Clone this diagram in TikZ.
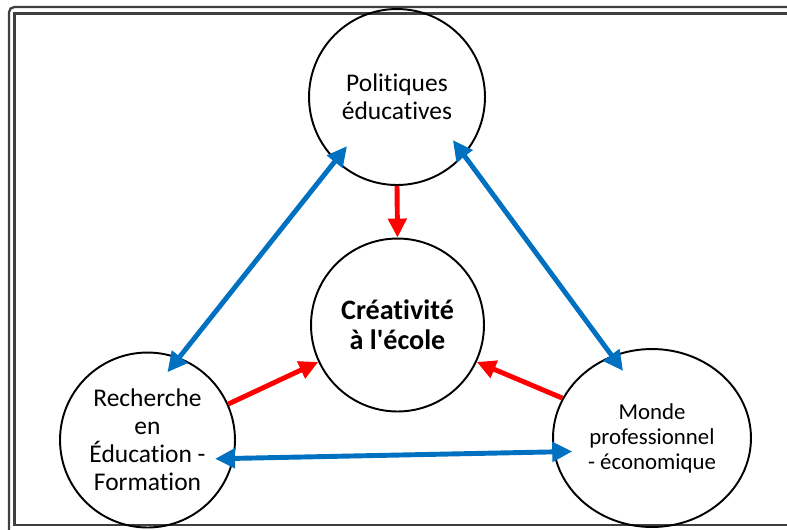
\documentclass[tikz,border=0pt]{standalone}
\usepackage{fontspec}
\newfontfamily\calibri[Ligatures=NoCommon]{Carlito}
\usetikzlibrary{arrows.meta}
\usetikzlibrary{shapes.geometric}
\definecolor{lienbleu}{HTML}{0070C0}
\definecolor{lienrouge}{HTML}{FF0000}
\definecolor{cadre}{HTML}{3F3F3F}

\begin{document}
\begin{tikzpicture}[x=0.02cm,y=-0.02cm,
  pole/.style={circle,draw,line width=1.1pt,inner sep=0pt,align=center,font=\calibri\fontsize{14.5}{16}\selectfont},
  bleu/.style={draw=lienbleu,line width=2.8pt,{Triangle[length=0.4cm,width=0.38cm]}-{Triangle[length=0.4cm,width=0.38cm]},shorten <=-0.38cm,shorten >=-0.38cm},
  rouge/.style={draw=lienrouge,line width=2.8pt,-{Triangle[length=0.38cm,width=0.36cm]}}]
\useasboundingbox (0,0) rectangle (787,529);
\clip (0,0) rectangle (787,529);
\draw[cadre,line width=1.3pt,rounded corners=3pt] (9,7) rectangle (800,540);
\draw[cadre,line width=1.3pt] (14.5,13.5) rectangle (795,525);

\node[pole,minimum size=3.52cm] (pol) at (397,97) {Politiques\\éducatives};
\node[pole,minimum size=3.46cm,font=\calibri\fontsize{16}{17}\selectfont\bfseries] (cre) at (397.5,325) {Créativité\\à l'école};
\node[pole,minimum size=3.5cm] (rech) at (147.5,440) {Recherche\\en\\Éducation -\\Formation};
\node[pole,ellipse,minimum width=3.96cm,minimum height=3.56cm,font=\calibri\fontsize{13}{14.2}\selectfont] (monde) at (652,438) {Monde\\professionnel\\- économique};

\draw[bleu] (rech.69.7) -- (pol.226.7);
\draw[bleu] (pol.319.2) -- (monde.116.7);
\draw[bleu] (rech.348.3) -- (monde.188.7);
\draw[rouge] (pol.south) -- (cre.north);
\draw[rouge] (rech.24.7) -- (cre.205.5);
\draw[rouge] (monde.156.9) -- (cre.335.8);
\end{tikzpicture}
\end{document}
